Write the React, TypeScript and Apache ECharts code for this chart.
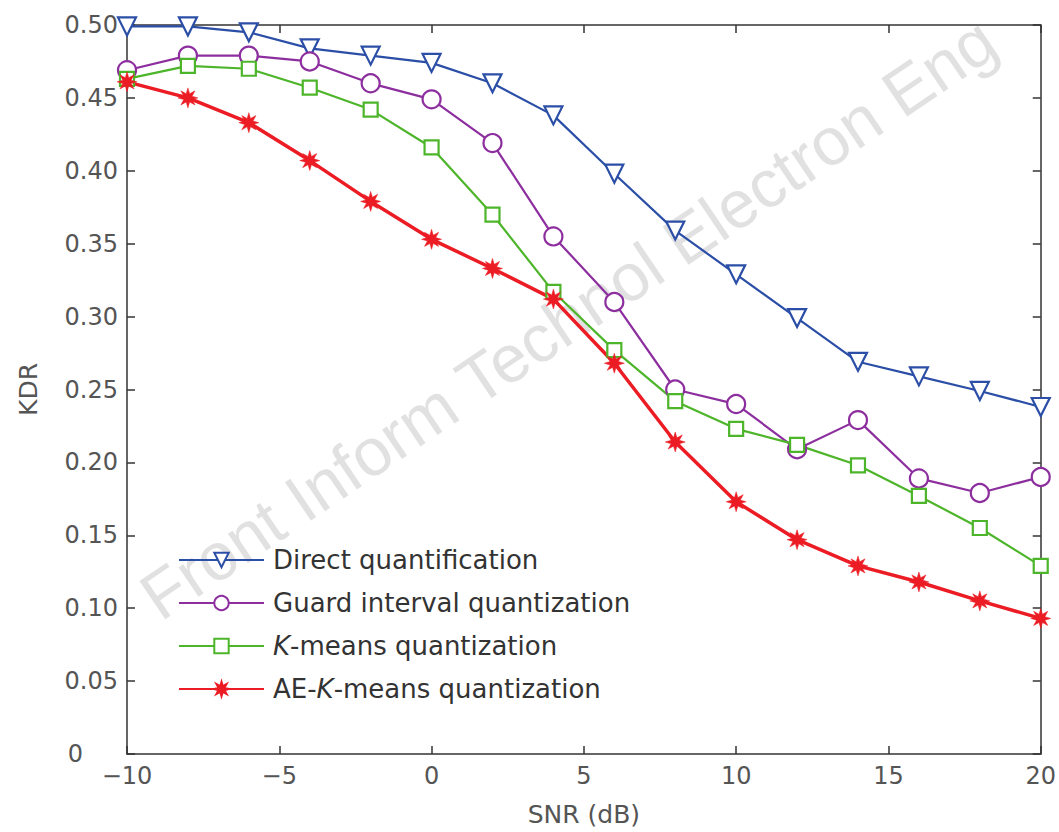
import React, { useEffect, useRef } from "react";
import * as echarts from "echarts";

const snr = [-10, -8, -6, -4, -2, 0, 2, 4, 6, 8, 10, 12, 14, 16, 18, 20];
const directQ = [0.499, 0.499, 0.495, 0.484, 0.479, 0.474, 0.46, 0.438, 0.398, 0.359, 0.329, 0.299, 0.269, 0.259, 0.249, 0.238];
const guardQ = [0.469, 0.479, 0.479, 0.475, 0.46, 0.449, 0.419, 0.355, 0.31, 0.25, 0.24, 0.209, 0.229, 0.189, 0.179, 0.19];
const kmeansQ = [0.463, 0.472, 0.47, 0.457, 0.442, 0.416, 0.37, 0.317, 0.277, 0.242, 0.223, 0.212, 0.198, 0.177, 0.155, 0.129];
const aeKmeansQ = [0.461, 0.45, 0.433, 0.407, 0.379, 0.353, 0.333, 0.312, 0.268, 0.214, 0.173, 0.147, 0.129, 0.118, 0.105, 0.093];
const seriesNames = [
  "Direct quantification",
  "Guard interval quantization",
  "K-means quantization",
  "AE-K-means quantization",
];

function starPath(): string {
  const pts: string[] = [];
  for (let i = 0; i < 16; i++) {
    const r = i % 2 === 0 ? 10 : 4.5;
    const a = (Math.PI * 2 * i) / 16 - Math.PI / 2;
    pts.push(`${(10 + r * Math.cos(a)).toFixed(2)} ${(10 + r * Math.sin(a)).toFixed(2)}`);
  }
  return "path://M" + pts.join(" L") + " Z";
}

export default function App() {
  const ref = useRef<HTMLDivElement>(null);
  useEffect(() => {
    if (!ref.current) return;
    const chart = echarts.init(ref.current, undefined, { renderer: "svg" });
    const font = "DejaVu Sans, Liberation Sans, Arial, sans-serif";
    const axisLine = { show: true, onZero: false, lineStyle: { color: "#333", width: 1.5 } };
    const tick = { show: true, inside: true, length: 8, lineStyle: { color: "#333", width: 1.5 } };
    const toPairs = (arr: number[]) => snr.map((x, i) => [x, arr[i]]);
    const mk = (name: string, data: number[], color: string, symbol: string, size: number, extra: any = {}) => ({
      name,
      type: "line",
      data: toPairs(data),
      symbol,
      symbolSize: size,
      showAllSymbol: true,
      lineStyle: { color, width: 2.2 },
      itemStyle: { color: "#fff", borderColor: color, borderWidth: 2.2 },
      z: 3,
      ...extra,
    });
    chart.setOption({
      animation: false,
      textStyle: { fontFamily: font },
      grid: { left: 127, right: 6, top: 25, bottom: 77, containLabel: false },
      legend: {
        orient: "vertical",
        left: 173,
        top: 542,
        itemWidth: 85,
        itemHeight: 18,
        itemGap: 17,
        data: seriesNames,
        textStyle: {
          fontSize: 26,
          color: "#333",
          fontFamily: font,
          padding: [0, 0, 0, 4],
          rich: { i: { fontSize: 26, fontStyle: "italic", color: "#333", fontFamily: font } },
        },
        formatter: (n: string) => n.replace("K-", "{i|K}-"),
      },
      xAxis: [
        {
          type: "value",
          min: -10,
          max: 20,
          interval: 5,
          position: "bottom",
          axisLine,
          axisTick: tick,
          splitLine: { show: false },
          axisLabel: {
            fontSize: 24,
            color: "#555",
            margin: 10,
            formatter: (v: number) => String(v).replace("-", "\u2212"),
          },
          name: "SNR (dB)",
          nameLocation: "middle",
          nameGap: 48,
          nameTextStyle: { fontSize: 25, color: "#555" },
        },
        {
          type: "value",
          min: -10,
          max: 20,
          interval: 5,
          position: "top",
          axisLine,
          axisTick: tick,
          splitLine: { show: false },
          axisLabel: { show: false },
        },
      ],
      yAxis: [
        {
          type: "value",
          min: 0,
          max: 0.5,
          interval: 0.05,
          position: "left",
          axisLine,
          axisTick: tick,
          splitLine: { show: false },
          axisLabel: {
            fontSize: 24,
            color: "#555",
            margin: 9,
            formatter: (v: number) => (Math.abs(v) < 1e-9 ? "{z|0}" : v.toFixed(2)),
            rich: { z: { fontSize: 24, color: "#555", fontFamily: font, padding: [0, 35, 0, 0] } },
          },
          name: "KDR",
          nameLocation: "middle",
          nameGap: 99,
          nameRotate: 90,
          nameTextStyle: { fontSize: 25, color: "#555", verticalAlign: "middle" },
        },
        {
          type: "value",
          min: 0,
          max: 0.5,
          interval: 0.05,
          position: "right",
          axisLine,
          axisTick: tick,
          splitLine: { show: false },
          axisLabel: { show: false },
        },
      ],
      graphic: [
        {
          type: "text",
          x: 568,
          y: 318,
          rotation: 0.595,
          z: 0,
          style: {
            text: "Front Inform Technol Electron Eng",
            fontSize: 67,
            fontFamily: "Liberation Sans, Arial, sans-serif",
            fill: "rgba(200,200,200,0.55)",
            align: "center",
            verticalAlign: "middle",
          },
        },
      ],
      series: [
        mk(seriesNames[0], directQ, "#2b4ea6", "triangle", 18, { symbolRotate: 180 }),
        mk(seriesNames[1], guardQ, "#8d2e9f", "circle", 18),
        mk(seriesNames[2], kmeansQ, "#4db52a", "rect", 14),
        {
          ...mk(seriesNames[3], aeKmeansQ, "#ec1c24", starPath(), 20),
          lineStyle: { color: "#ec1c24", width: 3.5 },
          itemStyle: { color: "#ec1c24", borderColor: "#ec1c24", borderWidth: 0.5 },
        },
      ],
    });
    return () => chart.dispose();
  }, []);
  return (
    <div
      ref={ref}
      style={{ position: "fixed", left: 0, top: 0, width: 1059, height: 832, background: "#fff" }}
    />
  );
}
